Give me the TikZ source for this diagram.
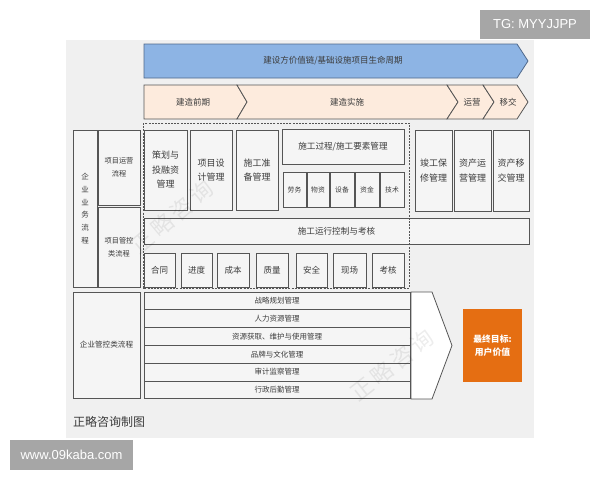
\documentclass[tikz,border=0pt]{standalone}
\usepackage{fontspec}
\setmainfont{Noto Sans CJK SC}
\newfontfamily\latinfont{Liberation Sans}
\usetikzlibrary{positioning}
\definecolor{panel}{RGB}{240,240,240}
\definecolor{bx}{RGB}{245,245,245}
\definecolor{ln}{RGB}{85,85,85}
\definecolor{tx}{RGB}{60,60,60}
\definecolor{blu}{RGB}{141,180,228}
\definecolor{bluln}{RGB}{80,105,140}
\definecolor{peach}{RGB}{253,235,221}
\definecolor{org}{RGB}{229,110,18}
\definecolor{tag}{RGB}{166,166,166}

\begin{document}
\begin{tikzpicture}[x=1pt,y=-1pt]
\tikzset{B/.style={draw=ln,fill=bx,line width=0.8pt,inner sep=0pt,align=center,text=tx,font=\fontsize{9}{14.5}\selectfont}}
\tikzset{S/.style={B,minimum height=35,font=\fontsize{6.8}{8}\selectfont}}
\tikzset{Q/.style={B,minimum height=34,font=\fontsize{8.5}{10}\selectfont}}
\tikzset{R/.style={B,line width=1pt,minimum width=266,minimum height=17.8,font=\fontsize{7.5}{9}\selectfont}}
\tikzset{A/.style={draw=ln,fill=peach,line width=0.8pt}}
\tikzset{L/.style={text=tx,inner sep=0pt,align=center,font=\fontsize{8.5}{10}\selectfont}}
\tikzset{W/.style={text=black,text opacity=0.07,inner sep=0pt,font=\fontsize{22}{22}\selectfont}}
\tikzset{G/.style={fill=tag,text=white,inner sep=0pt,font=\latinfont\fontsize{13}{13}\selectfont}}

  \useasboundingbox (0,0) rectangle (600,480);
  \fill[white] (0,0) rectangle (600,480);
  \fill[panel] (66,40) rectangle (534,438);

  \draw[draw=bluln,fill=blu,line width=0.8pt] (144,44) -- (517,44) -- (528,61) -- (517,78) -- (144,78) -- cycle;
  \node[L] (v1) at (333,61) {建设方价值链/基础设施项目生命周期};

  \draw[A] (144,85) -- (237,85) -- (247,102) -- (237,119) -- (144,119) -- cycle;
  \draw[A] (237,85) -- (447,85) -- (458,102) -- (447,119) -- (237,119) -- (247,102) -- cycle;
  \draw[A] (447,85) -- (483,85) -- (494,102) -- (483,119) -- (447,119) -- (458,102) -- cycle;
  \draw[A] (483,85) -- (517,85) -- (528,102) -- (517,119) -- (483,119) -- (494,102) -- cycle;
  \node[L] (a1) at (193,102) {建造前期};
  \node[L] (a2) at (347,102) {建造实施};
  \node[L] (a3) at (472,102) {运营};
  \node[L] (a4) at (508,102) {移交};

  \node[B,minimum width=24,minimum height=157,font=\fontsize{7.5}{12.7}\selectfont] (q1) at (85,208.5) {企\\业\\业\\务\\流\\程};
  \node[B,minimum width=42,minimum height=75,font=\fontsize{7.2}{12.7}\selectfont] (q2) at (119,167.5) {项目运营\\流程};
  \node[B,minimum width=42,minimum height=80,font=\fontsize{7.2}{12.7}\selectfont] (q3) at (119,247) {项目管控\\类流程};

  \node[B,minimum width=43,minimum height=80] (t1) at (165.5,170) {策划与\\投融资\\管理};
  \node[B,minimum width=42,minimum height=80] (t2) at (211,170) {项目设\\计管理};
  \node[B,minimum width=42,minimum height=80] (t3) at (257,170) {施工准\\备管理};
  \node[B,minimum width=122,minimum height=35,font=\fontsize{8.6}{10}\selectfont] (g1) at (343,146.5) {施工过程/施工要素管理};

  \node[S,minimum width=23] (s1) at (294.5,189.5) {劳务};
  \node[S,minimum width=22] (s2) at (318,189.5) {物资};
  \node[S,minimum width=24] (s3) at (342,189.5) {设备};
  \node[S,minimum width=24] (s4) at (367,189.5) {资金};
  \node[S,minimum width=24] (s5) at (392,189.5) {技术};

  \node[B,minimum width=37,minimum height=81] (r1) at (433.5,170.5) {竣工保\\修管理};
  \node[B,minimum width=37,minimum height=81] (r2) at (472.5,170.5) {资产运\\营管理};
  \node[B,minimum width=36,minimum height=81] (r3) at (511,170.5) {资产移\\交管理};

  \node[B,minimum width=385,minimum height=26,font=\fontsize{8.6}{10}\selectfont] (k1) at (336.5,231) {施工运行控制与考核};

  \node[Q,minimum width=31] (b1) at (159.5,270) {合同};
  \node[Q,minimum width=31] (b2) at (196.5,270) {进度};
  \node[Q,minimum width=32] (b3) at (233,270) {成本};
  \node[Q,minimum width=32] (b4) at (272,270) {质量};
  \node[Q,minimum width=31] (b5) at (311.5,270) {安全};
  \node[Q,minimum width=33] (b6) at (349.5,270) {现场};
  \node[Q,minimum width=32] (b7) at (388,270) {考核};

  \draw[ln,line width=0.8pt,dash pattern=on 2pt off 1.2pt] (143,123) rectangle (409,288);

  \draw[ln,fill=white,line width=0.8pt] (411,292) -- (432,292) -- (452,345.5) -- (432,399) -- (411,399) -- cycle;

  \node[B,minimum width=67,minimum height=106,font=\fontsize{7.6}{9}\selectfont] (m0) at (106.5,345) {企业管控类流程};
  \node[R] (m1) at (277,300.9) {战略规划管理};
  \node[R] (m2) at (277,318.7) {人力资源管理};
  \node[R] (m3) at (277,336.5) {资源获取、维护与使用管理};
  \node[R] (m4) at (277,354.3) {品牌与文化管理};
  \node[R] (m5) at (277,372.1) {审计监察管理};
  \node[R] (m6) at (277,389.9) {行政后勤管理};

  \node[fill=org,text=white,inner sep=0pt,align=center,minimum width=59,minimum height=73,font=\fontsize{8.8}{13.3}\selectfont\bfseries] (o1) at (492.5,345.5) {最终目标:\\用户价值};

  \node[anchor=west,inner sep=0pt,text=tx,font=\fontsize{12}{12}\selectfont] (c1) at (73,422) {正略咨询制图};

  \node[W,rotate=40] (w1) at (172,217) {正\,略\,咨\,询};
  \node[W,rotate=38] (w2) at (392,365) {正\,略\,咨\,询};

  \node[G,minimum width=110,minimum height=29] (tg) at (535,24.5) {TG: MYYJJPP};
  \node[G,minimum width=123,minimum height=30] (ww) at (71.5,455) {www.09kaba.com};
\end{tikzpicture}
\end{document}
